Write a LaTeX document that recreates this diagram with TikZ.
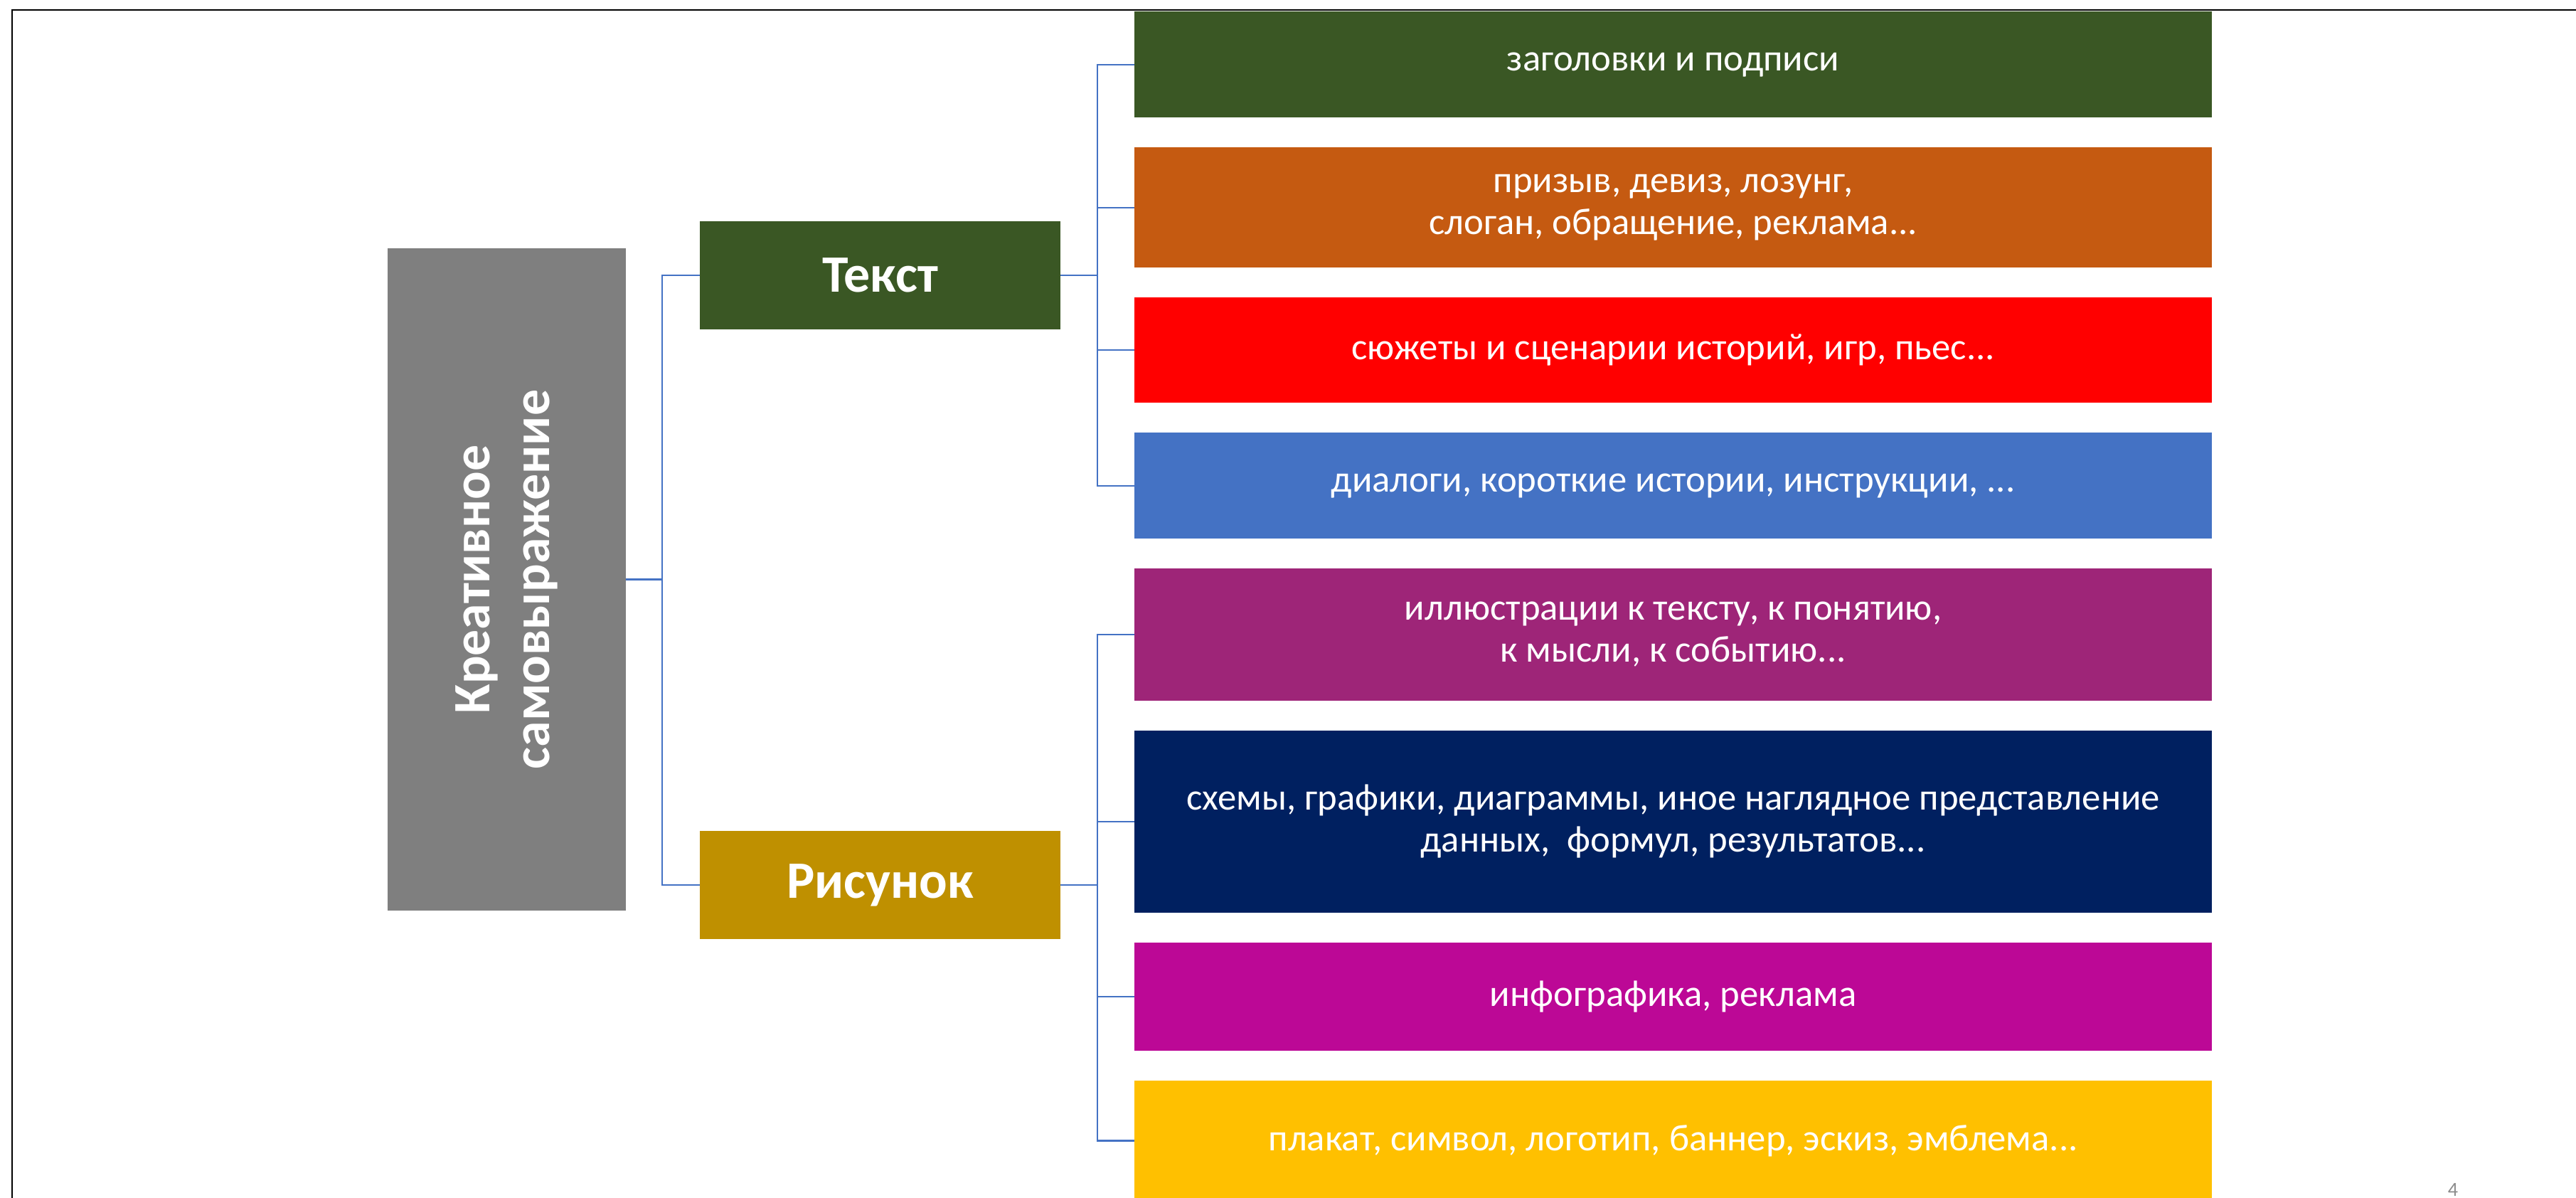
\documentclass[tikz,border=0pt]{standalone}
\usepackage{fontspec}
\setmainfont{Carlito}
\usetikzlibrary{positioning}

\definecolor{rootgray}{HTML}{7F7F7F}
\definecolor{darkgreen}{HTML}{3A5724}
\definecolor{gold}{HTML}{BF9000}
\definecolor{rust}{HTML}{C55A11}
\definecolor{steelblue}{HTML}{4472C4}
\definecolor{plum}{HTML}{9E2578}
\definecolor{navy}{HTML}{002060}
\definecolor{magenta}{HTML}{BC0896}
\definecolor{amber}{HTML}{FFC000}
\definecolor{linkblue}{HTML}{4472C4}
\definecolor{numgray}{HTML}{8C8C8C}

\begin{document}
\begin{tikzpicture}[
  conn/.style={draw=linkblue, line width=0.7pt},
  topic/.style={fill=#1, text=white, inner sep=0pt, outer sep=0pt, minimum width=5.07cm, minimum height=1.52cm,
    font=\bfseries\fontsize{21}{24}\selectfont},
  item/.style={fill=#1, text=white, inner sep=0pt, outer sep=0pt, minimum width=15.15cm, align=center,
    font=\fontsize{15}{16.8}\selectfont},
  node distance=0.42cm
]
\useasboundingbox (0,0) rectangle (36.22,-16.84);
\draw[line width=0.7pt] (0.17,-16.84) -- (0.17,-0.14) -- (36.22,-0.14);

\node (root) [fill=rootgray, text=white, rotate=90, inner sep=0pt, outer sep=0pt, minimum width=9.31cm, minimum height=3.35cm,
  align=center, font=\bfseries\fontsize{21}{23.8}\selectfont] at (7.125,-8.145) {Креативное\\самовыражение};
\node (txt) [topic=darkgreen] at (12.375,-3.868) {Текст};
\node (pic) [topic=gold] at (12.375,-12.44) {Рисунок};

\node (t1) [item=darkgreen, minimum height=1.495cm, anchor=north] at (23.525,-0.16) {заголовки и подписи};
\node (t2) [item=rust, minimum height=1.685cm, below=of t1] {призыв, девиз, лозунг,\\слоган, обращение, реклама...};
\node (t3) [item=red, minimum height=1.485cm, below=of t2] {сюжеты и сценарии историй, игр, пьес...};
\node (t4) [item=steelblue, minimum height=1.485cm, below=of t3] {диалоги, короткие истории, инструкции, ...};
\node (p1) [item=plum, minimum height=1.86cm, below=of t4] {иллюстрации к тексту, к понятию,\\к мысли, к событию...};
\node (p2) [item=navy, minimum height=2.56cm, below=of p1] {схемы, графики, диаграммы, иное наглядное представление\\данных,~ формул, результатов...};
\node (p3) [item=magenta, minimum height=1.52cm, below=of p2] {инфографика, реклама};
\node (p4) [item=amber, minimum height=1.69cm, below=of p3] {плакат, символ, логотип, баннер, эскиз, эмблема...};

\node (num) [text=numgray, font=\fontsize{8}{10}\selectfont] at (34.49,-16.72) {4};

\draw[conn] (root.south) -- ++(0.51,0) |- (txt.west);
\draw[conn] (root.south) -- ++(0.51,0) |- (pic.west);
\draw[conn] (txt.east) -- ++(0.52,0) |- (t1.west);
\draw[conn] (txt.east) -- ++(0.52,0) |- (t2.west);
\draw[conn] (txt.east) -- ++(0.52,0) |- (t3.west);
\draw[conn] (txt.east) -- ++(0.52,0) |- (t4.west);
\draw[conn] (pic.east) -- ++(0.52,0) |- (p1.west);
\draw[conn] (pic.east) -- ++(0.52,0) |- (p2.west);
\draw[conn] (pic.east) -- ++(0.52,0) |- (p3.west);
\draw[conn] (pic.east) -- ++(0.52,0) |- (p4.west);
\end{tikzpicture}
\end{document}
